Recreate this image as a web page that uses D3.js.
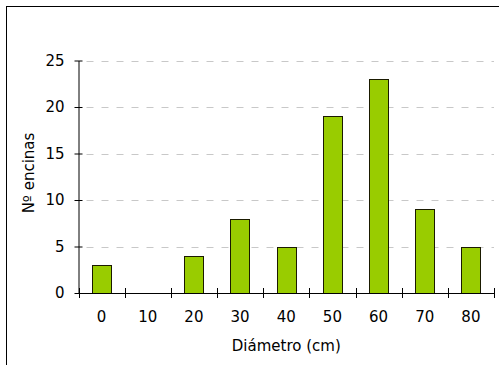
<!DOCTYPE html>
<html>
<head>
<meta charset="utf-8">
<script src="https://cdn.jsdelivr.net/npm/d3@7"></script>
<style>
  body { margin: 0; background: #fff; }
  svg { display: block; font-family: "DejaVu Sans", Verdana, sans-serif; }
</style>
</head>
<body>
<div id="chart"></div>
<script>
// diameter classes (cm) and number of holm oaks in each
let categories = ["0", "10", "20", "30", "40", "50", "60", "70", "80"];
let counts = [3, 0, 4, 8, 5, 19, 23, 9, 5];
let yTicks = [0, 5, 10, 15, 20, 25];

function main() {
    let width = 499, height = 365;
    let left = 78.5, right = 494, top = 60.5, bottom = 293;

    let svg = d3.select("#chart").append("svg")
        .attr("width", width)
        .attr("height", height);

    // outer frame
    svg.append("rect")
        .attr("x", 6.5).attr("y", 6.5)
        .attr("width", 520).attr("height", 400)
        .attr("fill", "none")
        .attr("stroke", "#000")
        .attr("stroke-width", 1);

    let x = d3.scaleBand().domain(categories).range([left, right]).padding(0);
    let y = d3.scaleLinear().domain([0, 25]).range([bottom, top]);

    // dashed gridlines
    svg.append("g")
        .selectAll("line")
        .data(yTicks.filter(d => d > 0))
        .enter()
        .append("line")
        .attr("x1", left + 8).attr("x2", right)
        .attr("y1", d => Math.round(y(d)) + 0.5)
        .attr("y2", d => Math.round(y(d)) + 0.5)
        .attr("stroke", "#c8c8c8")
        .attr("stroke-dasharray", "7,8");

    // bars
    let barW = x.bandwidth() / 2.4;
    let base = Math.round(bottom) + 0.5;
    svg.append("g")
        .selectAll("rect")
        .data(counts.map((v, i) => ({cat: categories[i], v: v})).filter(d => d.v > 0))
        .enter()
        .append("rect")
        .attr("x", d => Math.round(x(d.cat) + (x.bandwidth() - barW) / 2) + 0.5)
        .attr("y", d => Math.round(y(d.v)) + 0.5)
        .attr("width", Math.round(barW))
        .attr("height", d => base - (Math.round(y(d.v)) + 0.5))
        .attr("fill", "#99cc00")
        .attr("stroke", "#1a1a00")
        .attr("stroke-width", 1);

    // y axis
    let yAxis = svg.append("g")
        .attr("transform", "translate(" + left + ",0)")
        .call(d3.axisLeft(y).tickValues(yTicks).tickSizeInner(4).tickSizeOuter(0).tickPadding(10));
    yAxis.select(".domain").attr("stroke", "#000");
    yAxis.selectAll(".tick line").attr("x1", 4).attr("stroke", "#000");
    yAxis.selectAll(".tick text")
        .attr("font-family", "DejaVu Sans")
        .attr("font-size", 15)
        .attr("fill", "#000");

    // x axis labels
    let xAxis = svg.append("g")
        .attr("transform", "translate(0," + base + ")")
        .call(d3.axisBottom(x).tickSize(0).tickPadding(18));
    xAxis.select(".domain").remove();
    xAxis.selectAll(".tick text")
        .attr("font-family", "DejaVu Sans")
        .attr("font-size", 15)
        .attr("fill", "#000");

    // x axis line with category boundary ticks
    svg.append("line")
        .attr("x1", left).attr("x2", right)
        .attr("y1", base).attr("y2", base)
        .attr("stroke", "#000");
    let bounds = categories.map(c => x(c)).concat([right]);
    svg.append("g")
        .selectAll("line")
        .data(bounds)
        .enter()
        .append("line")
        .attr("x1", d => Math.round(d) + 0.5).attr("x2", d => Math.round(d) + 0.5)
        .attr("y1", bottom - 5).attr("y2", bottom + 5)
        .attr("stroke", "#000");

    // axis titles
    svg.append("text")
        .attr("x", (left + right) / 2)
        .attr("y", 351)
        .attr("text-anchor", "middle")
        .attr("font-size", 15)
        .text("Diámetro (cm)");

    svg.append("text")
        .attr("transform", "translate(34,173) rotate(-90)")
        .attr("text-anchor", "middle")
        .attr("font-size", 15)
        .text("Nº encinas");
}

main();
</script>
</body>
</html>
